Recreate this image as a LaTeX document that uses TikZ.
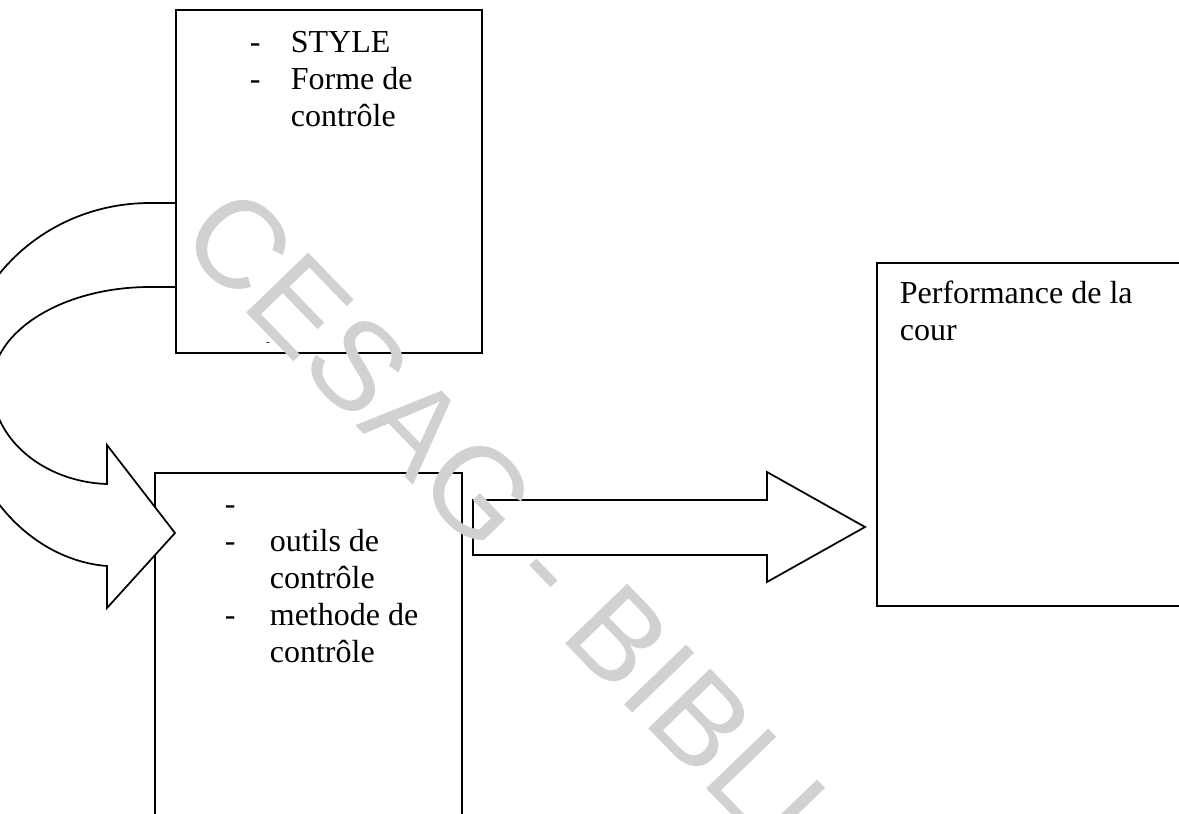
\documentclass[tikz,border=0pt]{standalone}
\usepackage{fontspec}
\setmainfont{Liberation Serif}
\newfontfamily\wmfont{Liberation Sans}

\tikzset{every picture/.style={line width=1.3pt}}
\tikzset{
  blockbox/.style={draw, rectangle, inner sep=0pt, outer sep=0pt, anchor=north west},
  listtext/.style={inner sep=0pt, anchor=base west, font=\fontsize{24}{27.75}\selectfont},
  blockarrow/.style={draw, fill=white, line join=miter},
}

\begin{document}
\begin{tikzpicture}[x=0.75pt,y=0.75pt,yscale=-1,xscale=1]
	\path[use as bounding box] (0,0) rectangle (1179,814);
	\clip (0,0) rectangle (1179,814);

	%Shape: Rectangle [outils]
	\node [blockbox, minimum width=230.25pt, minimum height=267.75pt] (outilsBox) at (155,473) {};
	%Shape: Curved Right Arrow
	\draw [blockarrow] (176,203) -- (150,203) .. controls (45,203) and (-40,284) .. (-40,385) .. controls (-40,486) and (30,560) .. (107,566) -- (107,608) -- (175,533) -- (107,445) -- (107,484) .. controls (45,482) and (-8,440) .. (-8,385) .. controls (-8,331) and (63,287) .. (150,287) -- (176,287) ;
	%Shape: Rectangle [style]
	\node [blockbox, minimum width=229.5pt, minimum height=257.25pt] (styleBox) at (176,10) {};
	%Shape: Right Arrow
	\draw [blockarrow] (473,500) -- (767,500) -- (767,472) -- (865,527) -- (767,582) -- (767,555) -- (473,555) -- cycle ;
	%Shape: Rectangle [performance]
	\node [blockbox, minimum width=234.75pt, minimum height=257.25pt] (perfBox) at (877,263) {};

	% Text Node
	\node [listtext] (styleTxt) at (249,52) {\begin{tabular}[t]{@{}p{30.75pt}@{}l@{}}
	- & STYLE\\
	- & Forme de\\
	  & contrôle
	\end{tabular}};
	% Text Node
	\node [inner sep=0pt, anchor=base, font=\fontsize{8}{8}\selectfont] (styleDash) at (268,345) {-};
	% Text Node
	\node [listtext] (outilsTxt) at (224,514) {\begin{tabular}[t]{@{}p{33.75pt}@{}l@{}}
	- & \\
	- & outils de\\
	  & contrôle\\
	- & methode de\\
	  & contrôle
	\end{tabular}};
	% Text Node
	\node [listtext] (perfTxt) at (899,303) {\begin{tabular}[t]{@{}l@{}}
	Performance de la\\
	cour
	\end{tabular}};

	% Watermark
	\node [inner sep=0pt, anchor=base west, rotate=-46, text=black!18, font=\wmfont\fontsize{94}{94}\selectfont] (wmark) at (176,240) {CESAG - BIBLIOTHEQUE};

\end{tikzpicture}
\end{document}
